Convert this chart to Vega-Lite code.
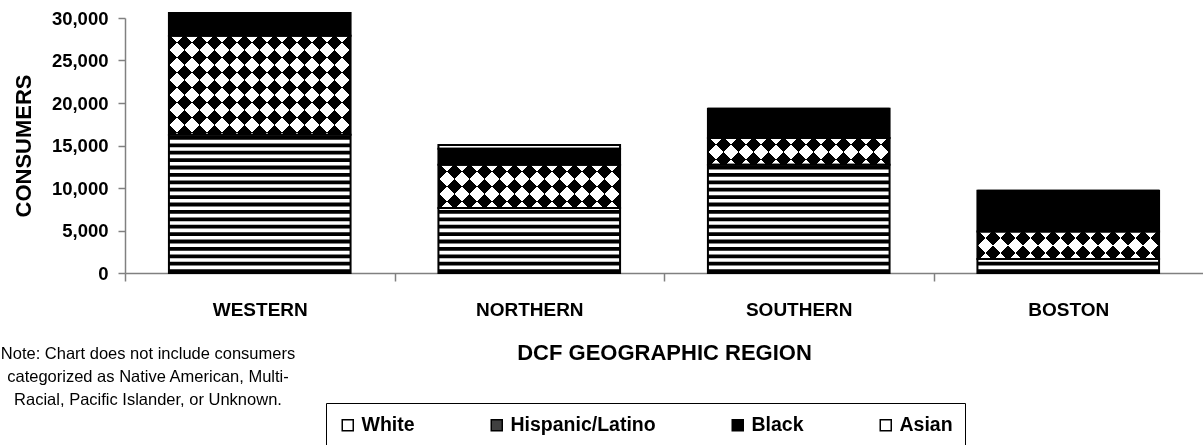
{
  "$schema": "https://vega.github.io/schema/vega-lite/v6.json",
  "autosize": {"type": "none"},
  "padding": {"left": 125, "top": 18, "right": 0, "bottom": 172},
  "width": 1078,
  "height": 255,
  "background": "white",
  "title": {
    "text": ["Note: Chart does not include consumers", "categorized as Native American, Multi-", "Racial, Pacific Islander, or Unknown."],
    "orient": "bottom", "anchor": "start", "frame": "group", "align": "center", "baseline": "top",
    "dx": 23, "dy": -102, "offset": 0,
    "font": "Liberation Sans", "fontSize": 16.5, "fontWeight": "normal", "color": "#000", "lineHeight": 23
  },
  "data": {
    "values": [
      {"region": "WESTERN", "race": "White", "value": 16270},
      {"region": "WESTERN", "race": "Hispanic/Latino", "value": 11650},
      {"region": "WESTERN", "race": "Black", "value": 2670},
      {"region": "WESTERN", "race": "Asian", "value": 0},
      {"region": "NORTHERN", "race": "White", "value": 7650},
      {"region": "NORTHERN", "race": "Hispanic/Latino", "value": 5090},
      {"region": "NORTHERN", "race": "Black", "value": 1880},
      {"region": "NORTHERN", "race": "Asian", "value": 440},
      {"region": "SOUTHERN", "race": "White", "value": 12740},
      {"region": "SOUTHERN", "race": "Hispanic/Latino", "value": 3140},
      {"region": "SOUTHERN", "race": "Black", "value": 3450},
      {"region": "SOUTHERN", "race": "Asian", "value": 0},
      {"region": "BOSTON", "race": "White", "value": 1650},
      {"region": "BOSTON", "race": "Hispanic/Latino", "value": 3240},
      {"region": "BOSTON", "race": "Black", "value": 4790},
      {"region": "BOSTON", "race": "Asian", "value": 0}
    ]
  },
  "transform": [
    {"stack": "value", "groupby": ["region"], "sort": [{"field": "race", "order": "descending"}], "as": ["y0", "y1"]}
  ],
  "encoding": {
    "x": {
      "field": "region", "type": "nominal", "sort": ["WESTERN", "NORTHERN", "SOUTHERN", "BOSTON"],
      "scale": {"paddingInner": 0.326, "paddingOuter": 0.163},
      "axis": {
        "title": "DCF GEOGRAPHIC REGION", "titleFontSize": 22, "titleFontWeight": "bold", "titlePadding": 23, "titleColor": "#000",
        "labelFontSize": 19, "labelFontWeight": "bold", "labelAngle": 0, "labelPadding": 19, "labelColor": "#000",
        "tickSize": 8, "tickOffset": -134.75, "labelOffset": 134.75, "domainColor": "#808080", "tickColor": "#808080", "domainWidth": 1.5, "tickWidth": 1.5
      }
    },
    "y": {
      "field": "y1", "type": "quantitative",
      "scale": {"domain": [0, 30000], "nice": false},
      "axis": {
        "title": "CONSUMERS", "titleFontSize": 22, "titleFontWeight": "bold", "titlePadding": 16, "titleColor": "#000",
        "values": [0, 5000, 10000, 15000, 20000, 25000, 30000], "format": ",.0f",
        "labelFontSize": 18.5, "labelFontWeight": "bold", "labelPadding": 10, "labelColor": "#000",
        "tickSize": 7, "grid": false, "domainColor": "#808080", "tickColor": "#808080", "domainWidth": 1.5, "tickWidth": 1.5
      }
    },
    "y2": {"field": "y0"}
  },
  "layer": [
    {
      "mark": {"type": "bar", "strokeWidth": 0},
      "encoding": {
        "fill": {
          "field": "race", "type": "nominal",
          "scale": {"domain": ["White", "Hispanic/Latino", "Black", "Asian"], "range": ["#ffffff", "#404040", "#000000", "#ffffff"]},
          "legend": {
            "orient": "none", "legendX": 201, "legendY": 385, "direction": "horizontal", "title": null,
            "symbolType": "square", "symbolSize": 121, "symbolStrokeColor": "#000", "symbolStrokeWidth": 1.5,
            "labelFont": "Liberation Sans", "labelFontSize": 19.5, "labelFontWeight": "bold", "labelColor": "#000", "labelOffset": 4,
            "columnPadding": 72, "padding": 12, "strokeColor": "#000"
          }
        }
      }
    },
    {
      "transform": [{"filter": "datum.race === 'White'"}],
      "mark": {"type": "rule", "color": "#000", "strokeWidth": 181.6, "strokeCap": "butt", "strokeDash": [3.8, 3.6]},
      "encoding": {"y": {"field": "y0", "type": "quantitative"}, "y2": {"field": "y1"}}
    },
    {
      "transform": [{"filter": "datum.race === 'Hispanic/Latino' && datum.region === 'WESTERN'"}],
      "mark": {"type": "bar", "strokeWidth": 0, "fill": {"gradient": "linear", "x1": 0, "y1": 0, "x2": 1.2733, "y2": 0.6944, "stops": [{"offset":0,"color":"#000"},{"offset":0.05,"color":"#000"},{"offset":0.05,"color":"#fff"},{"offset":0.1,"color":"#fff"},{"offset":0.1,"color":"#000"},{"offset":0.15,"color":"#000"},{"offset":0.15,"color":"#fff"},{"offset":0.2,"color":"#fff"},{"offset":0.2,"color":"#000"},{"offset":0.25,"color":"#000"},{"offset":0.25,"color":"#fff"},{"offset":0.3,"color":"#fff"},{"offset":0.3,"color":"#000"},{"offset":0.35,"color":"#000"},{"offset":0.35,"color":"#fff"},{"offset":0.4,"color":"#fff"},{"offset":0.4,"color":"#000"},{"offset":0.45,"color":"#000"},{"offset":0.45,"color":"#fff"},{"offset":0.5,"color":"#fff"},{"offset":0.5,"color":"#000"},{"offset":0.55,"color":"#000"},{"offset":0.55,"color":"#fff"},{"offset":0.6,"color":"#fff"},{"offset":0.6,"color":"#000"},{"offset":0.65,"color":"#000"},{"offset":0.65,"color":"#fff"},{"offset":0.7,"color":"#fff"},{"offset":0.7,"color":"#000"},{"offset":0.75,"color":"#000"},{"offset":0.75,"color":"#fff"},{"offset":0.8,"color":"#fff"},{"offset":0.8,"color":"#000"},{"offset":0.85,"color":"#000"},{"offset":0.85,"color":"#fff"},{"offset":0.9,"color":"#fff"},{"offset":0.9,"color":"#000"},{"offset":0.95,"color":"#000"},{"offset":0.95,"color":"#fff"},{"offset":1,"color":"#fff"}]}}
    },
    {
      "transform": [{"filter": "datum.race === 'Hispanic/Latino' && datum.region === 'NORTHERN'"}],
      "mark": {"type": "bar", "strokeWidth": 0, "fill": {"gradient": "linear", "x1": 0, "y1": 0, "x2": 1.5632, "y2": 0.3725, "stops": [{"offset":0,"color":"#000"},{"offset":0.05,"color":"#000"},{"offset":0.05,"color":"#fff"},{"offset":0.1,"color":"#fff"},{"offset":0.1,"color":"#000"},{"offset":0.15,"color":"#000"},{"offset":0.15,"color":"#fff"},{"offset":0.2,"color":"#fff"},{"offset":0.2,"color":"#000"},{"offset":0.25,"color":"#000"},{"offset":0.25,"color":"#fff"},{"offset":0.3,"color":"#fff"},{"offset":0.3,"color":"#000"},{"offset":0.35,"color":"#000"},{"offset":0.35,"color":"#fff"},{"offset":0.4,"color":"#fff"},{"offset":0.4,"color":"#000"},{"offset":0.45,"color":"#000"},{"offset":0.45,"color":"#fff"},{"offset":0.5,"color":"#fff"},{"offset":0.5,"color":"#000"},{"offset":0.55,"color":"#000"},{"offset":0.55,"color":"#fff"},{"offset":0.6,"color":"#fff"},{"offset":0.6,"color":"#000"},{"offset":0.65,"color":"#000"},{"offset":0.65,"color":"#fff"},{"offset":0.7,"color":"#fff"},{"offset":0.7,"color":"#000"},{"offset":0.75,"color":"#000"},{"offset":0.75,"color":"#fff"},{"offset":0.8,"color":"#fff"},{"offset":0.8,"color":"#000"},{"offset":0.85,"color":"#000"},{"offset":0.85,"color":"#fff"},{"offset":0.9,"color":"#fff"},{"offset":0.9,"color":"#000"},{"offset":0.95,"color":"#000"},{"offset":0.95,"color":"#fff"},{"offset":1,"color":"#fff"}]}}
    },
    {
      "transform": [{"filter": "datum.race === 'Hispanic/Latino' && datum.region === 'SOUTHERN'"}],
      "mark": {"type": "bar", "strokeWidth": 0, "fill": {"gradient": "linear", "x1": 0, "y1": 0, "x2": 1.6171, "y2": 0.2377, "stops": [{"offset":0,"color":"#000"},{"offset":0.05,"color":"#000"},{"offset":0.05,"color":"#fff"},{"offset":0.1,"color":"#fff"},{"offset":0.1,"color":"#000"},{"offset":0.15,"color":"#000"},{"offset":0.15,"color":"#fff"},{"offset":0.2,"color":"#fff"},{"offset":0.2,"color":"#000"},{"offset":0.25,"color":"#000"},{"offset":0.25,"color":"#fff"},{"offset":0.3,"color":"#fff"},{"offset":0.3,"color":"#000"},{"offset":0.35,"color":"#000"},{"offset":0.35,"color":"#fff"},{"offset":0.4,"color":"#fff"},{"offset":0.4,"color":"#000"},{"offset":0.45,"color":"#000"},{"offset":0.45,"color":"#fff"},{"offset":0.5,"color":"#fff"},{"offset":0.5,"color":"#000"},{"offset":0.55,"color":"#000"},{"offset":0.55,"color":"#fff"},{"offset":0.6,"color":"#fff"},{"offset":0.6,"color":"#000"},{"offset":0.65,"color":"#000"},{"offset":0.65,"color":"#fff"},{"offset":0.7,"color":"#fff"},{"offset":0.7,"color":"#000"},{"offset":0.75,"color":"#000"},{"offset":0.75,"color":"#fff"},{"offset":0.8,"color":"#fff"},{"offset":0.8,"color":"#000"},{"offset":0.85,"color":"#000"},{"offset":0.85,"color":"#fff"},{"offset":0.9,"color":"#fff"},{"offset":0.9,"color":"#000"},{"offset":0.95,"color":"#000"},{"offset":0.95,"color":"#fff"},{"offset":1,"color":"#fff"}]}}
    },
    {
      "transform": [{"filter": "datum.race === 'Hispanic/Latino' && datum.region === 'BOSTON'"}],
      "mark": {"type": "bar", "strokeWidth": 0, "fill": {"gradient": "linear", "x1": 0, "y1": 0, "x2": 1.6148, "y2": 0.2449, "stops": [{"offset":0,"color":"#000"},{"offset":0.05,"color":"#000"},{"offset":0.05,"color":"#fff"},{"offset":0.1,"color":"#fff"},{"offset":0.1,"color":"#000"},{"offset":0.15,"color":"#000"},{"offset":0.15,"color":"#fff"},{"offset":0.2,"color":"#fff"},{"offset":0.2,"color":"#000"},{"offset":0.25,"color":"#000"},{"offset":0.25,"color":"#fff"},{"offset":0.3,"color":"#fff"},{"offset":0.3,"color":"#000"},{"offset":0.35,"color":"#000"},{"offset":0.35,"color":"#fff"},{"offset":0.4,"color":"#fff"},{"offset":0.4,"color":"#000"},{"offset":0.45,"color":"#000"},{"offset":0.45,"color":"#fff"},{"offset":0.5,"color":"#fff"},{"offset":0.5,"color":"#000"},{"offset":0.55,"color":"#000"},{"offset":0.55,"color":"#fff"},{"offset":0.6,"color":"#fff"},{"offset":0.6,"color":"#000"},{"offset":0.65,"color":"#000"},{"offset":0.65,"color":"#fff"},{"offset":0.7,"color":"#fff"},{"offset":0.7,"color":"#000"},{"offset":0.75,"color":"#000"},{"offset":0.75,"color":"#fff"},{"offset":0.8,"color":"#fff"},{"offset":0.8,"color":"#000"},{"offset":0.85,"color":"#000"},{"offset":0.85,"color":"#fff"},{"offset":0.9,"color":"#fff"},{"offset":0.9,"color":"#000"},{"offset":0.95,"color":"#000"},{"offset":0.95,"color":"#fff"},{"offset":1,"color":"#fff"}]}}
    },
    {
      "transform": [{"filter": "datum.race === 'Hispanic/Latino' && datum.region === 'WESTERN'"}],
      "mark": {"type": "bar", "strokeWidth": 0, "blend": "difference", "fill": {"gradient": "linear", "x1": 1, "y1": 0, "x2": -0.2733, "y2": 0.6944, "stops": [{"offset":0,"color":"#000"},{"offset":0.05,"color":"#000"},{"offset":0.05,"color":"#fff"},{"offset":0.1,"color":"#fff"},{"offset":0.1,"color":"#000"},{"offset":0.15,"color":"#000"},{"offset":0.15,"color":"#fff"},{"offset":0.2,"color":"#fff"},{"offset":0.2,"color":"#000"},{"offset":0.25,"color":"#000"},{"offset":0.25,"color":"#fff"},{"offset":0.3,"color":"#fff"},{"offset":0.3,"color":"#000"},{"offset":0.35,"color":"#000"},{"offset":0.35,"color":"#fff"},{"offset":0.4,"color":"#fff"},{"offset":0.4,"color":"#000"},{"offset":0.45,"color":"#000"},{"offset":0.45,"color":"#fff"},{"offset":0.5,"color":"#fff"},{"offset":0.5,"color":"#000"},{"offset":0.55,"color":"#000"},{"offset":0.55,"color":"#fff"},{"offset":0.6,"color":"#fff"},{"offset":0.6,"color":"#000"},{"offset":0.65,"color":"#000"},{"offset":0.65,"color":"#fff"},{"offset":0.7,"color":"#fff"},{"offset":0.7,"color":"#000"},{"offset":0.75,"color":"#000"},{"offset":0.75,"color":"#fff"},{"offset":0.8,"color":"#fff"},{"offset":0.8,"color":"#000"},{"offset":0.85,"color":"#000"},{"offset":0.85,"color":"#fff"},{"offset":0.9,"color":"#fff"},{"offset":0.9,"color":"#000"},{"offset":0.95,"color":"#000"},{"offset":0.95,"color":"#fff"},{"offset":1,"color":"#fff"}]}}
    },
    {
      "transform": [{"filter": "datum.race === 'Hispanic/Latino' && datum.region === 'NORTHERN'"}],
      "mark": {"type": "bar", "strokeWidth": 0, "blend": "difference", "fill": {"gradient": "linear", "x1": 1, "y1": 0, "x2": -0.5632, "y2": 0.3725, "stops": [{"offset":0,"color":"#000"},{"offset":0.05,"color":"#000"},{"offset":0.05,"color":"#fff"},{"offset":0.1,"color":"#fff"},{"offset":0.1,"color":"#000"},{"offset":0.15,"color":"#000"},{"offset":0.15,"color":"#fff"},{"offset":0.2,"color":"#fff"},{"offset":0.2,"color":"#000"},{"offset":0.25,"color":"#000"},{"offset":0.25,"color":"#fff"},{"offset":0.3,"color":"#fff"},{"offset":0.3,"color":"#000"},{"offset":0.35,"color":"#000"},{"offset":0.35,"color":"#fff"},{"offset":0.4,"color":"#fff"},{"offset":0.4,"color":"#000"},{"offset":0.45,"color":"#000"},{"offset":0.45,"color":"#fff"},{"offset":0.5,"color":"#fff"},{"offset":0.5,"color":"#000"},{"offset":0.55,"color":"#000"},{"offset":0.55,"color":"#fff"},{"offset":0.6,"color":"#fff"},{"offset":0.6,"color":"#000"},{"offset":0.65,"color":"#000"},{"offset":0.65,"color":"#fff"},{"offset":0.7,"color":"#fff"},{"offset":0.7,"color":"#000"},{"offset":0.75,"color":"#000"},{"offset":0.75,"color":"#fff"},{"offset":0.8,"color":"#fff"},{"offset":0.8,"color":"#000"},{"offset":0.85,"color":"#000"},{"offset":0.85,"color":"#fff"},{"offset":0.9,"color":"#fff"},{"offset":0.9,"color":"#000"},{"offset":0.95,"color":"#000"},{"offset":0.95,"color":"#fff"},{"offset":1,"color":"#fff"}]}}
    },
    {
      "transform": [{"filter": "datum.race === 'Hispanic/Latino' && datum.region === 'SOUTHERN'"}],
      "mark": {"type": "bar", "strokeWidth": 0, "blend": "difference", "fill": {"gradient": "linear", "x1": 1, "y1": 0, "x2": -0.6171, "y2": 0.2377, "stops": [{"offset":0,"color":"#000"},{"offset":0.05,"color":"#000"},{"offset":0.05,"color":"#fff"},{"offset":0.1,"color":"#fff"},{"offset":0.1,"color":"#000"},{"offset":0.15,"color":"#000"},{"offset":0.15,"color":"#fff"},{"offset":0.2,"color":"#fff"},{"offset":0.2,"color":"#000"},{"offset":0.25,"color":"#000"},{"offset":0.25,"color":"#fff"},{"offset":0.3,"color":"#fff"},{"offset":0.3,"color":"#000"},{"offset":0.35,"color":"#000"},{"offset":0.35,"color":"#fff"},{"offset":0.4,"color":"#fff"},{"offset":0.4,"color":"#000"},{"offset":0.45,"color":"#000"},{"offset":0.45,"color":"#fff"},{"offset":0.5,"color":"#fff"},{"offset":0.5,"color":"#000"},{"offset":0.55,"color":"#000"},{"offset":0.55,"color":"#fff"},{"offset":0.6,"color":"#fff"},{"offset":0.6,"color":"#000"},{"offset":0.65,"color":"#000"},{"offset":0.65,"color":"#fff"},{"offset":0.7,"color":"#fff"},{"offset":0.7,"color":"#000"},{"offset":0.75,"color":"#000"},{"offset":0.75,"color":"#fff"},{"offset":0.8,"color":"#fff"},{"offset":0.8,"color":"#000"},{"offset":0.85,"color":"#000"},{"offset":0.85,"color":"#fff"},{"offset":0.9,"color":"#fff"},{"offset":0.9,"color":"#000"},{"offset":0.95,"color":"#000"},{"offset":0.95,"color":"#fff"},{"offset":1,"color":"#fff"}]}}
    },
    {
      "transform": [{"filter": "datum.race === 'Hispanic/Latino' && datum.region === 'BOSTON'"}],
      "mark": {"type": "bar", "strokeWidth": 0, "blend": "difference", "fill": {"gradient": "linear", "x1": 1, "y1": 0, "x2": -0.6148, "y2": 0.2449, "stops": [{"offset":0,"color":"#000"},{"offset":0.05,"color":"#000"},{"offset":0.05,"color":"#fff"},{"offset":0.1,"color":"#fff"},{"offset":0.1,"color":"#000"},{"offset":0.15,"color":"#000"},{"offset":0.15,"color":"#fff"},{"offset":0.2,"color":"#fff"},{"offset":0.2,"color":"#000"},{"offset":0.25,"color":"#000"},{"offset":0.25,"color":"#fff"},{"offset":0.3,"color":"#fff"},{"offset":0.3,"color":"#000"},{"offset":0.35,"color":"#000"},{"offset":0.35,"color":"#fff"},{"offset":0.4,"color":"#fff"},{"offset":0.4,"color":"#000"},{"offset":0.45,"color":"#000"},{"offset":0.45,"color":"#fff"},{"offset":0.5,"color":"#fff"},{"offset":0.5,"color":"#000"},{"offset":0.55,"color":"#000"},{"offset":0.55,"color":"#fff"},{"offset":0.6,"color":"#fff"},{"offset":0.6,"color":"#000"},{"offset":0.65,"color":"#000"},{"offset":0.65,"color":"#fff"},{"offset":0.7,"color":"#fff"},{"offset":0.7,"color":"#000"},{"offset":0.75,"color":"#000"},{"offset":0.75,"color":"#fff"},{"offset":0.8,"color":"#fff"},{"offset":0.8,"color":"#000"},{"offset":0.85,"color":"#000"},{"offset":0.85,"color":"#fff"},{"offset":0.9,"color":"#fff"},{"offset":0.9,"color":"#000"},{"offset":0.95,"color":"#000"},{"offset":0.95,"color":"#fff"},{"offset":1,"color":"#fff"}]}}
    },
    {
      "mark": {"type": "bar", "filled": false, "stroke": "#000", "strokeWidth": 2}
    }
  ],
  "config": {
    "view": {"stroke": null},
    "font": "Liberation Sans"
  }
}
